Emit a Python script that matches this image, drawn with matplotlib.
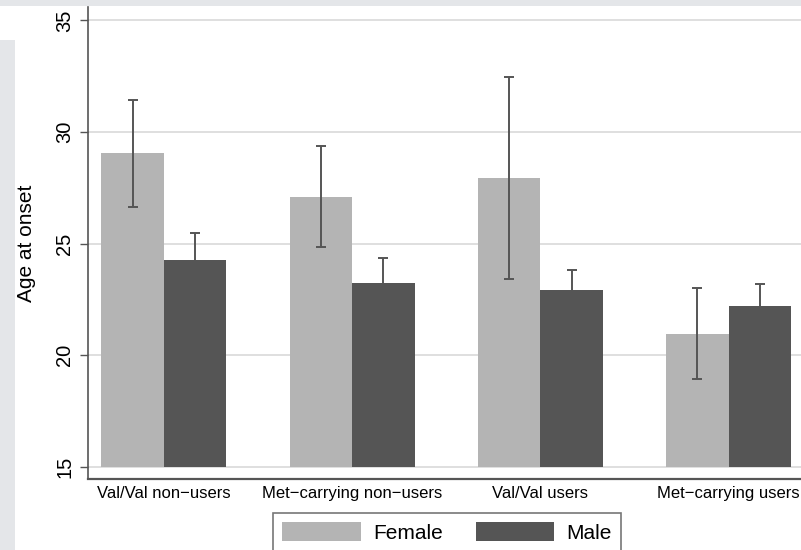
import numpy as np
import matplotlib
matplotlib.use("Agg")
import matplotlib.pyplot as plt
from matplotlib.patches import Rectangle

plt.rcParams['font.family'] = ['Liberation Sans', 'DejaVu Sans']

# Data
groups = ["Val/Val non\u2212users", "Met\u2212carrying non\u2212users", "Val/Val users", "Met\u2212carrying users"]
female_mean = [29.05, 27.09, 27.93, 20.96]
female_lo = [26.65, 24.84, 23.42, 18.95]
female_hi = [31.43, 29.37, 32.45, 23.03]
male_mean = [24.25, 23.22, 22.90, 22.18]
male_lo = [23.14, 22.15, 22.03, 21.26]
male_hi = [25.47, 24.37, 23.82, 23.19]
yticks = [15, 20, 25, 30, 35]

base = 15
width = 0.332
female_col = "#b4b4b4"
male_col = "#555555"
err_col = "#555555"

fig = plt.figure(figsize=(8.01, 5.5), dpi=100)
fig.patch.set_facecolor("white")
# grey screenshot border strips
fig.patches.append(Rectangle((0, 1 - 6 / 550), 1, 6 / 550, transform=fig.transFigure,
                             facecolor="#e4e6e9", edgecolor="none", zorder=0))
fig.patches.append(Rectangle((0, 0), 15 / 801, 1 - 40 / 550, transform=fig.transFigure,
                             facecolor="#e4e6e9", edgecolor="none", zorder=0))

ax = fig.add_axes([88 / 801, 1 - 479 / 550, 1 - 88 / 801, (479 - 7) / 550])
x = np.arange(len(groups))

fm = np.array(female_mean)
mm = np.array(male_mean)
ax.bar(x - width / 2, fm - base, width, bottom=base, color=female_col, label="Female", zorder=2)
ax.bar(x + width / 2, mm - base, width, bottom=base, color=male_col, label="Male", zorder=2)

ferr = [fm - np.array(female_lo), np.array(female_hi) - fm]
merr = [mm - np.array(male_lo), np.array(male_hi) - mm]
ax.errorbar(x - width / 2, fm, yerr=ferr, fmt="none", ecolor=err_col, elinewidth=1.4,
            capsize=3.8, capthick=1.4, zorder=3)
ax.errorbar(x + width / 2, mm, yerr=merr, fmt="none", ecolor=err_col, elinewidth=1.4,
            capsize=3.8, capthick=1.4, zorder=3)

ax.set_ylim(14.45, 35.6)
ax.set_xlim(-0.4036, 3.385)
ax.set_yticks(yticks)
ax.set_yticklabels([str(t) for t in yticks], rotation=90, va="center", fontsize=14.5)
ax.tick_params(axis="y", length=6, width=1, color="#555555", pad=4)
ax.set_xticks(x)
ax.set_xticklabels(groups, fontsize=12)
ax.tick_params(axis="x", length=0, pad=5)
ax.grid(axis="y", color="#dcdcdc", linewidth=1.3, zorder=0)
ax.set_axisbelow(True)

for s in ["top", "right"]:
    ax.spines[s].set_visible(False)
ax.spines["left"].set_color("#555555")
ax.spines["bottom"].set_color("#555555")
ax.spines["left"].set_linewidth(1.2)
ax.spines["bottom"].set_linewidth(1.6)

ax.set_ylabel("Age at onset", fontsize=15)
ax.yaxis.set_label_coords(-0.073, 0.5)

leg = fig.legend(loc="upper left", bbox_to_anchor=(273 / 801, 1 - 513 / 550), ncol=2,
                 fontsize=15, frameon=True, fancybox=False, edgecolor="#555555",
                 handlelength=3.75, handleheight=1.0, columnspacing=1.6, handletextpad=0.6,
                 borderpad=0.45, borderaxespad=0)
leg.get_frame().set_linewidth(1.2)

fig.savefig("out.png", dpi=100)
